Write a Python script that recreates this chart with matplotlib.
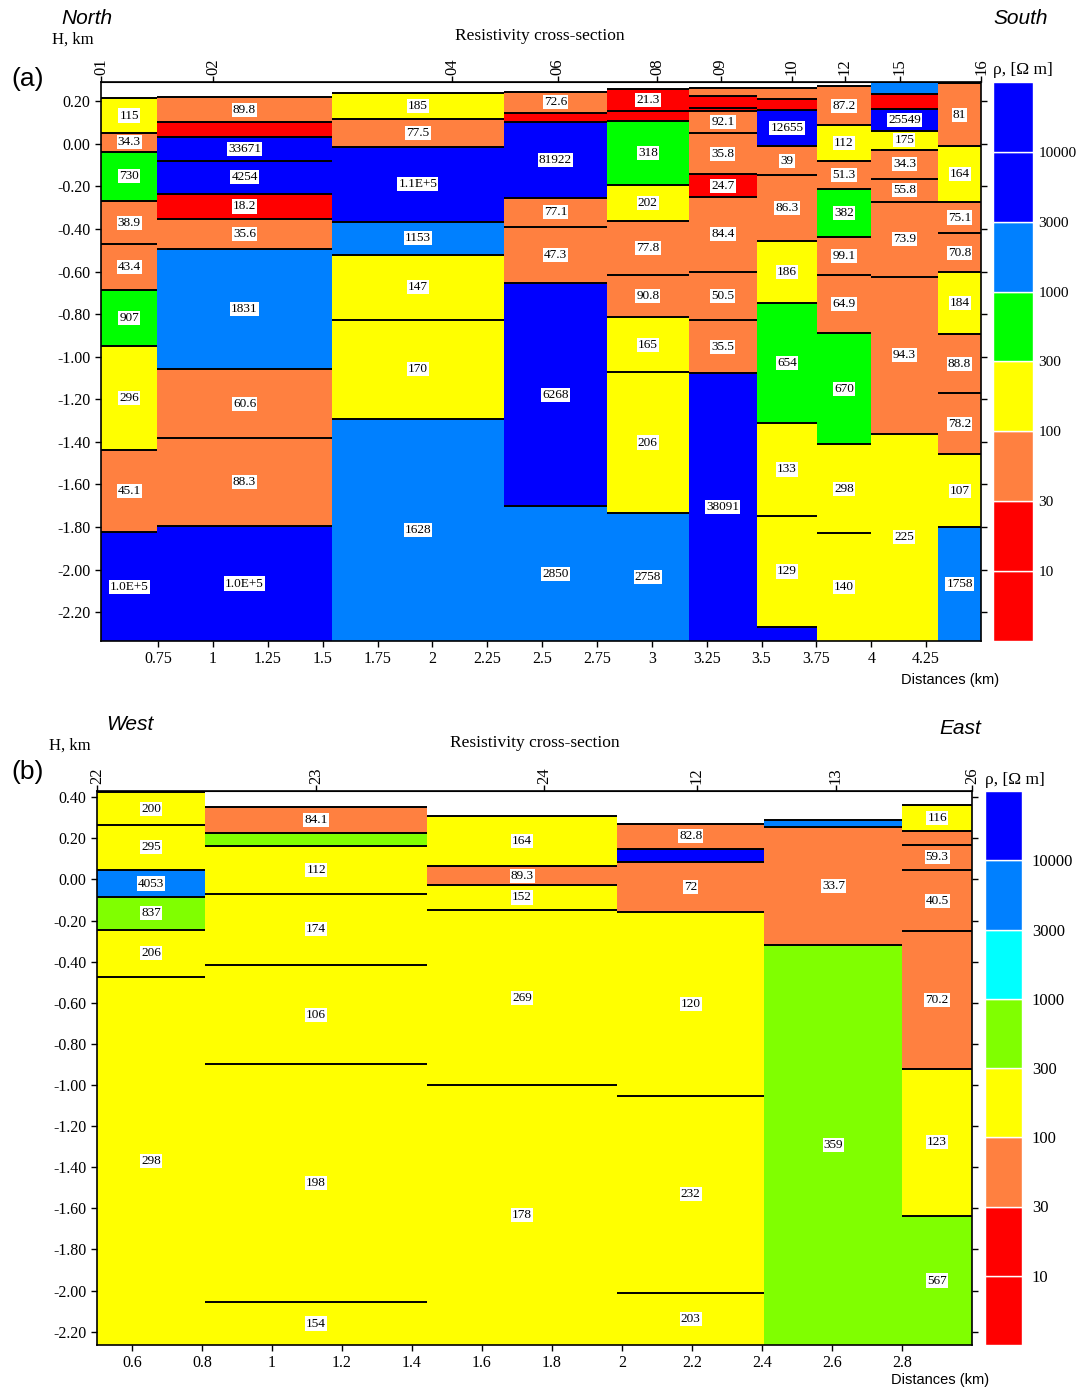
import matplotlib.pyplot as plt
import numpy as np

plt.rcParams['axes.unicode_minus'] = False
plt.rcParams['font.family'] = 'Liberation Serif'

SERIF = 'Liberation Serif'
SANS = 'Liberation Sans'
W, H = 1078, 1387

# resistivity class limits (Ohm m) shared by both sections
class_limits = [10, 30, 100, 300, 1000, 3000, 10000]
class_labels = ['10', '30', '100', '300', '1000', '3000', '10000']
a_palette = ['#FF0000', '#FF0000', '#FF8040', '#FFFF00', '#00FF00', '#0080FF', '#0000FF', '#0000FF']
b_palette = ['#FF0000', '#FF0000', '#FF8040', '#FFFF00', '#80FF00', '#00FFFF', '#0080FF', '#0000FF']

# ---- (a) North - South profile ----
a_stations = ['01', '02', '04', '06', '08', '09', '10', '12', '15', '16']
a_station_km = [0.49, 1.0, 2.09, 2.571, 3.024, 3.314, 3.638, 3.878, 4.13, 4.5]
a_edges = [0.49, 0.747, 1.541, 2.327, 2.794, 3.17, 3.478, 3.754, 3.997, 4.305, 4.5]
# top of each layer (km); the last layer runs down to the bottom of the section
a_tops = [
    [0.213, 0.052, -0.039, -0.268, -0.473, -0.687, -0.952, -1.438, -1.824],
    [0.219, 0.10, 0.032, -0.081, -0.235, -0.354, -0.494, -1.059, -1.383, -1.795],
    [0.239, 0.115, -0.013, -0.368, -0.521, -0.827, -1.291],
    [0.244, 0.145, 0.10, -0.255, -0.389, -0.654, -1.702],
    [0.255, 0.153, 0.106, -0.192, -0.365, -0.615, -0.813, -1.073, -1.733],
    [0.26, 0.225, 0.17, 0.153, 0.051, -0.144, -0.25, -0.60, -0.827, -1.078],
    [0.263, 0.211, 0.158, -0.01, -0.149, -0.458, -0.747, -1.312, -1.747, -2.27],
    [0.271, 0.087, -0.081, -0.214, -0.436, -0.615, -0.891, -1.412, -1.827],
    [0.291, 0.235, 0.165, 0.06, -0.028, -0.164, -0.274, -0.624, -1.362],
    [0.283, -0.009, -0.274, -0.419, -0.604, -0.894, -1.172, -1.459, -1.799],
]
a_rho = [
    [115, 34.3, 730, 38.9, 43.4, 907, 296, 45.1, 1.0e5],
    [89.8, 20, 33671, 4254, 18.2, 35.6, 1831, 60.6, 88.3, 1.0e5],
    [185, 77.5, 1.1e5, 1153, 147, 170, 1628],
    [72.6, 20, 81922, 77.1, 47.3, 6268, 2850],
    [21.3, 20, 318, 202, 77.8, 90.8, 165, 206, 2758],
    [50, 20, 20, 92.1, 35.8, 24.7, 84.4, 50.5, 35.5, 38091],
    [50, 20, 12655, 39, 86.3, 186, 654, 133, 129, 20000],
    [87.2, 112, 51.3, 382, 99.1, 64.9, 670, 298, 140],
    [2000, 20, 25549, 175, 34.3, 55.8, 73.9, 94.3, 225],
    [81, 164, 75.1, 70.8, 184, 88.8, 78.2, 107, 1758],
]
# thin layers drawn without a value box: (column, layer)
a_unlabeled = [(1, 1), (3, 1), (4, 1), (5, 0), (5, 1), (5, 2), (6, 0), (6, 1), (6, 9), (8, 0), (8, 1)]
a_xlim = (0.49, 4.5)
a_ylim = (-2.335, 0.29)
a_xticks = [0.75, 1, 1.25, 1.5, 1.75, 2, 2.25, 2.5, 2.75, 3, 3.25, 3.5, 3.75, 4, 4.25]
a_yticks = [0.2, 0.0, -0.2, -0.4, -0.6, -0.8, -1.0, -1.2, -1.4, -1.6, -1.8, -2.0, -2.2]

# ---- (b) West - East profile ----
b_stations = ['22', '23', '24', '12', '13', '26']
b_station_km = [0.5, 1.127, 1.777, 2.214, 2.61, 3.0]
b_edges = [0.5, 0.809, 1.443, 1.986, 2.407, 2.801, 3.0]
b_tops = [
    [0.425, 0.264, 0.047, -0.087, -0.244, -0.475],
    [0.35, 0.225, 0.164, -0.069, -0.416, -0.90, -2.056],
    [0.309, 0.063, -0.026, -0.15, -1.00],
    [0.27, 0.148, 0.083, -0.157, -1.052, -2.01],
    [0.29, 0.256, -0.32],
    [0.363, 0.233, 0.169, 0.046, -0.252, -0.921, -1.638],
]
b_rho = [
    [200, 295, 4053, 837, 206, 298],
    [84.1, 500, 112, 174, 106, 198, 154],
    [164, 89.3, 152, 269, 178],
    [82.8, 20000, 72, 120, 232, 203],
    [5000, 33.7, 359],
    [116, 50, 59.3, 40.5, 70.2, 123, 567],
]
b_unlabeled = [(1, 1), (3, 1), (4, 0), (5, 1)]
b_xlim = (0.5, 3.0)
b_ylim = (-2.265, 0.43)
b_xticks = [0.6, 0.8, 1.0, 1.2, 1.4, 1.6, 1.8, 2.0, 2.2, 2.4, 2.6, 2.8]
b_yticks = [0.4, 0.2, 0.0, -0.2, -0.4, -0.6, -0.8, -1.0, -1.2, -1.4, -1.6, -1.8, -2.0, -2.2]


def rho_text(v):
    if v >= 1e5:
        e = int(np.floor(np.log10(v)))
        return f'{v / 10 ** e:.1f}E+{e}'
    return f'{v:g}'


def px_axes(fig, left, top, width, height):
    return fig.add_axes([left / W, 1 - (top + height) / H, width / W, height / H])


def fig_text(fig, x, y, s, **kw):
    fig.text(x / W, 1 - y / H, s, **kw)


def draw_section(ax, edges, tops, rho, unlabeled, palette, ylim, label_size):
    for i, (col_tops, col_rho) in enumerate(zip(tops, rho)):
        x0, x1 = edges[i], edges[i + 1]
        bottoms = col_tops[1:] + [ylim[0]]
        colors = [palette[k] for k in np.digitize(col_rho, class_limits)]
        heights = np.array(col_tops) - np.array(bottoms)
        ax.bar([x0] * len(col_tops), heights, bottom=bottoms, width=x1 - x0,
               align='edge', color=colors, linewidth=0, zorder=1)
        ax.hlines(col_tops, x0, x1, colors='black', linewidth=1.4, zorder=2)
        for j, v in enumerate(col_rho):
            if (i, j) in unlabeled:
                continue
            ax.text((x0 + x1) / 2, (col_tops[j] + bottoms[j]) / 2, rho_text(v),
                    ha='center', va='center', fontsize=label_size, family=SERIF, zorder=3,
                    bbox=dict(boxstyle='square,pad=0.08', fc='white', ec='none'))


def style_axes(ax, xlim, ylim, xticks, yticks, stations, station_km):
    ax.set_xlim(*xlim)
    ax.set_ylim(*ylim)
    ax.set_xticks(xticks)
    ax.set_xticklabels([f'{t:g}' for t in xticks])
    ax.set_yticks(yticks)
    ax.set_yticklabels([f'{t:.2f}' for t in yticks])
    ax.tick_params(direction='out', length=4, width=1, labelsize=11.5, right=True)
    for sp in ax.spines.values():
        sp.set_linewidth(1.2)
    top = ax.secondary_xaxis('top')
    top.set_xticks(station_km)
    top.set_xticklabels(stations, rotation=90)
    top.tick_params(direction='out', length=4, width=1, labelsize=12, pad=1)


def draw_scale(cax, palette, size, pad):
    cax.bar([0] * len(palette), 1, bottom=np.arange(len(palette)), width=1, align='edge',
            color=palette, edgecolor='white', linewidth=1.0)
    cax.set_xlim(0, 1)
    cax.set_ylim(0, len(palette))
    cax.set_xticks([])
    cax.set_yticks(np.arange(1, len(palette)))
    cax.set_yticklabels(class_labels)
    cax.yaxis.tick_right()
    cax.tick_params(axis='y', length=0, labelsize=size, pad=pad)
    for sp in cax.spines.values():
        sp.set_visible(False)


fig = plt.figure(figsize=(W / 100, H / 100), dpi=100)

# section (a)
ax_a = px_axes(fig, 101, 82, 880, 559)
draw_section(ax_a, a_edges, a_tops, a_rho, a_unlabeled, a_palette, a_ylim, 9.5)
style_axes(ax_a, a_xlim, a_ylim, a_xticks, a_yticks, a_stations, a_station_km)
draw_scale(px_axes(fig, 993, 82, 40, 559), a_palette, 11, 4)

fig_text(fig, 87, 18, 'North', family=SANS, style='italic', fontsize=15, ha='center', va='center')
fig_text(fig, 1021, 18, 'South', family=SANS, style='italic', fontsize=15, ha='center', va='center')
fig_text(fig, 73, 40, 'H, km', family=SERIF, fontsize=12, ha='center', va='center')
fig_text(fig, 540, 36, 'Resistivity cross-section', family=SERIF, fontsize=12.5, ha='center', va='center')
fig_text(fig, 28, 79, '(a)', family=SANS, fontsize=19, ha='center', va='center')
fig_text(fig, 993, 70, 'ρ, [Ω m]', family=SERIF, fontsize=12.5, ha='left', va='center')
fig_text(fig, 950, 680, 'Distances (km)', family=SANS, fontsize=10.5, ha='center', va='center')

# section (b)
ax_b = px_axes(fig, 97, 791, 875, 554)
draw_section(ax_b, b_edges, b_tops, b_rho, b_unlabeled, b_palette, b_ylim, 9.5)
style_axes(ax_b, b_xlim, b_ylim, b_xticks, b_yticks, b_stations, b_station_km)
draw_scale(px_axes(fig, 985, 791, 37, 554), b_palette, 12, 7)

fig_text(fig, 130, 725, 'West', family=SANS, style='italic', fontsize=15, ha='center', va='center')
fig_text(fig, 960, 728, 'East', family=SANS, style='italic', fontsize=15, ha='center', va='center')
fig_text(fig, 70, 746, 'H, km', family=SERIF, fontsize=12, ha='center', va='center')
fig_text(fig, 535, 743, 'Resistivity cross-section', family=SERIF, fontsize=12.5, ha='center', va='center')
fig_text(fig, 28, 772, '(b)', family=SANS, fontsize=19, ha='center', va='center')
fig_text(fig, 985, 780, 'ρ, [Ω m]', family=SERIF, fontsize=12.5, ha='left', va='center')
fig_text(fig, 940, 1380, 'Distances (km)', family=SANS, fontsize=10.5, ha='center', va='center')

fig.savefig('out.png', dpi=100)
